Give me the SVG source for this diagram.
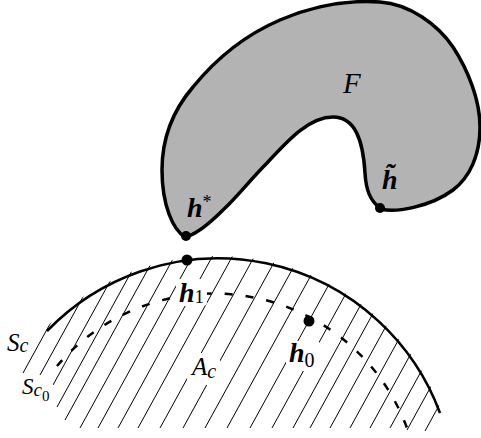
<svg xmlns="http://www.w3.org/2000/svg" width="481" height="438" viewBox="0 0 481 438">
<defs>
<clipPath id="disk"><circle cx="217" cy="496" r="240"/></clipPath>
<style>
.lbl{font-family:"Liberation Serif","Times New Roman",serif;font-style:italic;fill:#000}
.vec{font-weight:bold}
.up{font-style:normal;font-weight:normal}
.knock{fill:#fff;stroke:none}
.hatch line{stroke:#000;stroke-width:1}
.dot{fill:#000}
</style>
</defs>
<rect width="481" height="438" fill="#fff"/>
<g id="hatch-Ac" class="hatch" clip-path="url(#disk)">
<line x1="23" y1="373" x2="133" y2="173"/>
<line x1="40" y1="375" x2="150" y2="175"/>
<line x1="53" y1="385" x2="163" y2="185"/>
<line x1="57" y1="407" x2="167" y2="207"/>
<line x1="65" y1="420" x2="175" y2="220"/>
<line x1="80" y1="428" x2="190" y2="228"/>
<line x1="98" y1="428" x2="208" y2="228"/>
<line x1="118" y1="428" x2="228" y2="228"/>
<line x1="138" y1="428" x2="248" y2="228"/>
<line x1="160" y1="428" x2="270" y2="228"/>
<line x1="183" y1="428" x2="293" y2="228"/>
<line x1="205" y1="428" x2="315" y2="228"/>
<line x1="227" y1="428" x2="337" y2="228"/>
<line x1="250" y1="428" x2="360" y2="228"/>
<line x1="272" y1="428" x2="382" y2="228"/>
<line x1="293" y1="428" x2="403" y2="228"/>
<line x1="310" y1="428" x2="420" y2="228"/>
<line x1="330" y1="428" x2="440" y2="228"/>
<line x1="350" y1="428" x2="460" y2="228"/>
<line x1="370" y1="428" x2="480" y2="228"/>
<line x1="390" y1="428" x2="500" y2="228"/>
<line x1="407" y1="430" x2="517" y2="230"/>
<line x1="425" y1="431" x2="535" y2="231"/>
</g>
<g id="connectors">
<path id="Sc0" d="M57 366 A206 206 0 0 1 407 428" fill="none" stroke="#000" stroke-width="2.5" stroke-dasharray="8 13"/>
<path id="Sc" d="M47 331 A237 237 0 0 1 440 413" fill="none" stroke="#000" stroke-width="2.6"/>
</g>
<g id="node-F">
<path d="M185 237 C173 230 162 205 162 170 C162 135 175 108 193 87 C215 60 245 35 280 20 C315 5 350 0 380 2 C410 4 438 25 453 47 C468 70 480 100 480 127 C480 155 470 177 453 190 C430 207 395 213 381 209 C370 201 366 190 365 173 C363 140 355 117 333 117 C310 117 290 138 267 163 C250 180 238 196 223 210 C208 225 195 235 185 237 Z" fill="#b3b3b3" stroke="#000" stroke-width="3.5" stroke-linejoin="round"/>
<text class="lbl" x="343" y="93" font-size="29">F</text>
</g>
<g id="node-hstar">
<circle class="dot" cx="186" cy="236" r="5"/>
<text class="lbl vec" x="187" y="217" font-size="28">h<tspan class="up" font-size="18" dy="-9">*</tspan></text>
</g>
<g id="node-htilde">
<circle class="dot" cx="380" cy="208" r="5"/>
<text class="lbl vec" x="382" y="189" font-size="28">h&#x303;</text>
</g>
<g id="node-h1">
<rect class="knock" x="176" y="279" width="31" height="27" rx="4"/>
<circle class="dot" cx="187" cy="260" r="5.5"/>
<text class="lbl vec" x="179" y="302" font-size="28">h<tspan class="up" font-size="19" dy="1">1</tspan></text>
</g>
<g id="node-h0">
<rect class="knock" x="286" y="341" width="34" height="30" rx="4"/>
<circle class="dot" cx="309" cy="321" r="5.5"/>
<text class="lbl vec" x="289" y="362" font-size="28">h<tspan class="up" font-size="20" dy="5">0</tspan></text>
</g>
<g id="label-Ac">
<rect class="knock" x="187" y="353" width="33" height="32" rx="6"/>
<text class="lbl" x="192" y="375" font-size="25">A<tspan font-size="20" dy="3">c</tspan></text>
</g>
<g id="label-Sc">
<text class="lbl" x="7" y="351" font-size="25">S<tspan font-size="20" dy="1">c</tspan></text>
</g>
<g id="label-Sc0">
<rect class="knock" x="19" y="375" width="34" height="30" rx="4"/>
<text class="lbl" x="22" y="394" font-size="23">S<tspan font-size="19" dy="2">c</tspan><tspan class="up" font-size="15" dy="5">0</tspan></text>
</g>
</svg>
